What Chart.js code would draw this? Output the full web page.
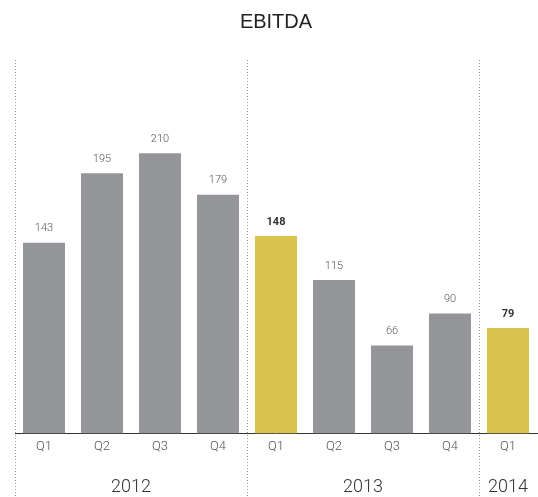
<!DOCTYPE html>
<html>
<head>
<meta charset="utf-8">
<script src="https://cdn.jsdelivr.net/npm/chart.js@4.4.1/dist/chart.umd.min.js"></script>
<style>
  html, body { margin: 0; padding: 0; background: #fff; }
  #wrap { width: 538px; height: 497px; }
</style>
</head>
<body>
<div id="wrap"><canvas id="ebitdaChart"></canvas></div>
<script>
// ── Data ───────────────────────────────────────────────
var quarters  = ['Q1', 'Q2', 'Q3', 'Q4', 'Q1', 'Q2', 'Q3', 'Q4', 'Q1'];
var years     = ['2012', '2012', '2012', '2012', '2013', '2013', '2013', '2013', '2014'];
var ebitda    = [143, 195, 210, 179, 148, 115, 66, 90, 79];
var highlight = [false, false, false, false, true, false, false, false, true];

var colorGrey   = '#939598';
var colorYellow = '#d8c250';
var fontFamily  = 'Roboto, "Open Sans", sans-serif';

// ── Value labels above bars + year separators / labels ──
var annotatePlugin = {
    id: 'annotate',
    afterDatasetsDraw: function (chart) {
        var ctx = chart.ctx;
        var meta = chart.getDatasetMeta(0);
        ctx.save();
        ctx.textAlign = 'center';
        ctx.textBaseline = 'middle';
        meta.data.forEach(function (bar, i) {
            ctx.fillStyle = highlight[i] ? '#333' : '#555';
            ctx.font = (highlight[i] ? '700 ' : '300 ') + '11px ' + fontFamily;
            ctx.fillText(ebitda[i], bar.x, bar.y - 14);
        });

        // group quarters by year
        var xs = chart.scales.x;
        var half = (xs.getPixelForValue(1) - xs.getPixelForValue(0)) / 2;
        var groups = [];
        years.forEach(function (y, i) {
            var g = groups[groups.length - 1];
            if (!g || g.year !== y) groups.push({ year: y, first: i, last: i });
            else g.last = i;
        });

        ctx.strokeStyle = '#9a9a9a';
        ctx.lineWidth = 1;
        ctx.setLineDash([1, 2]);
        groups.forEach(function (g) {
            var left = Math.round(xs.getPixelForValue(g.first) - half) + 0.5;
            ctx.beginPath();
            ctx.moveTo(left, chart.chartArea.top);
            ctx.lineTo(left, chart.height);
            ctx.stroke();
        });
        ctx.setLineDash([]);

        ctx.fillStyle = '#333';
        ctx.font = '300 18px ' + fontFamily;
        groups.forEach(function (g) {
            var cx = (xs.getPixelForValue(g.first) + xs.getPixelForValue(g.last)) / 2;
            ctx.fillText(g.year, cx, 487);
        });
        ctx.restore();
    }
};

new Chart(document.getElementById('ebitdaChart'), {
    type: 'bar',
    data: {
        labels: quarters,
        datasets: [{
            label: 'EBITDA',
            data: ebitda,
            backgroundColor: highlight.map(function (h) { return h ? colorYellow : colorGrey; }),
            categoryPercentage: 1,
            barPercentage: 0.724
        }]
    },
    options: {
        responsive: true,
        maintainAspectRatio: false,
        animation: false,
        layout: { padding: { left: 15, right: 1, top: 0, bottom: 36 } },
        plugins: {
            legend: { display: false },
            tooltip: { enabled: false },
            title: {
                display: true,
                text: 'EBITDA',
                color: '#222',
                font: { family: '"Liberation Sans", Arial, sans-serif', size: 20, weight: '400' },
                padding: { top: 10, bottom: 26 }
            }
        },
        scales: {
            x: {
                grid: { display: false, drawTicks: false },
                border: { display: true, color: '#333', width: 1 },
                ticks: { color: '#555', padding: 6, font: { family: fontFamily, size: 13, weight: '300' } }
            },
            y: {
                display: false,
                min: 0,
                max: 280
            }
        }
    },
    plugins: [annotatePlugin]
});
</script>
</body>
</html>
